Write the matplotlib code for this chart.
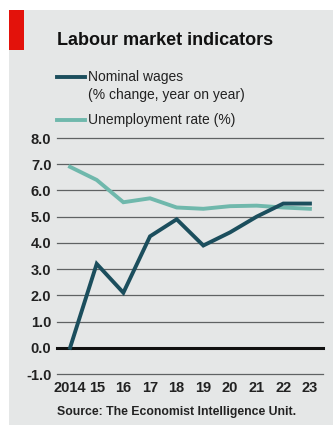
import matplotlib
matplotlib.use("Agg")
import matplotlib.pyplot as plt
from matplotlib.patches import Rectangle
from matplotlib.lines import Line2D

years = [2014, 2015, 2016, 2017, 2018, 2019, 2020, 2021, 2022, 2023]
year_labels = ["2014", "15", "16", "17", "18", "19", "20", "21", "22", "23"]
nominal_wages = [0.0, 3.2, 2.1, 4.25, 4.9, 3.9, 4.4, 5.0, 5.5, 5.5]
unemployment = [6.9, 6.4, 5.55, 5.7, 5.35, 5.3, 5.4, 5.42, 5.35, 5.3]
y_ticks = [-1.0, 0.0, 1.0, 2.0, 3.0, 4.0, 5.0, 6.0, 7.0, 8.0]

W, H = 333, 425
fig = plt.figure(figsize=(W/100, H/100), dpi=100, facecolor="white")
font = ["Liberation Sans", "DejaVu Sans"]

bg = "#e5e7e7"
fig.patches.append(Rectangle((9/W, 0), 1 - 9/W, 1 - 10/H, transform=fig.transFigure,
                             facecolor=bg, edgecolor="none", zorder=-10))
fig.patches.append(Rectangle((9/W, 1 - 50/H), 15/W, 40/H, transform=fig.transFigure,
                             facecolor="#e3120b", edgecolor="none", zorder=-9))

ax = fig.add_axes([57/W, 1 - 374/H, (323 - 57)/W, (374 - 138)/H])
ax.set_zorder(1)
ax.set_facecolor(bg)
for s in ax.spines.values():
    s.set_visible(False)
ax.set_xlim(2013.51, 2023.49)
ax.set_ylim(-1.0, 8.0)
ax.set_yticks(y_ticks)
ax.set_yticklabels([f"{v:.1f}" for v in y_ticks], fontfamily=font, fontsize=10.5, fontweight="bold", color="#222222")
ax.set_xticks(years)
ax.set_xticklabels(year_labels, fontfamily=font, fontsize=10.5, fontweight="bold", color="#222222")
ax.tick_params(axis="both", length=0)
ax.tick_params(axis="y", pad=4)
ax.tick_params(axis="x", pad=5)
for v in y_ticks:
    if v == 0.0:
        ax.axhline(v, color="#111111", lw=2.2, zorder=1, clip_on=False)
    else:
        ax.axhline(v, color="#5f6263", lw=0.9, zorder=1, clip_on=False)

c_unemp = "#6fb8ac"
c_wage = "#1b4e5d"
ax.plot(years, unemployment, color=c_unemp, lw=2.8, zorder=3, solid_joinstyle="miter")
ax.plot(years, nominal_wages, color=c_wage, lw=2.8, zorder=4, solid_joinstyle="miter")

fig.text(57/W, 1 - 45/H, "Labour market indicators", fontfamily=font, fontsize=13,
         fontweight="bold", color="#111111", va="baseline", ha="left")

# legend
fig.add_artist(Line2D([57/W, 85/W], [1 - 77/H, 1 - 77/H], transform=fig.transFigure, color=c_wage, lw=2.8))
fig.add_artist(Line2D([57/W, 85/W], [1 - 120/H, 1 - 120/H], transform=fig.transFigure, color=c_unemp, lw=2.8))
fig.text(88/W, 1 - 77/H, "Nominal wages", fontfamily=font, fontsize=10, color="#222222", va="center", ha="left")
fig.text(88/W, 1 - 95/H, "(% change, year on year)", fontfamily=font, fontsize=10, color="#222222", va="center", ha="left")
fig.text(88/W, 1 - 120/H, "Unemployment rate (%)", fontfamily=font, fontsize=10, color="#222222", va="center", ha="left")

fig.text(57/W, 1 - 412/H, "Source: The Economist Intelligence Unit.", fontfamily=font, fontsize=8.8,
         fontweight="bold", color="#222222", va="center", ha="left")

fig.savefig("out.png", dpi=100, facecolor="white")
